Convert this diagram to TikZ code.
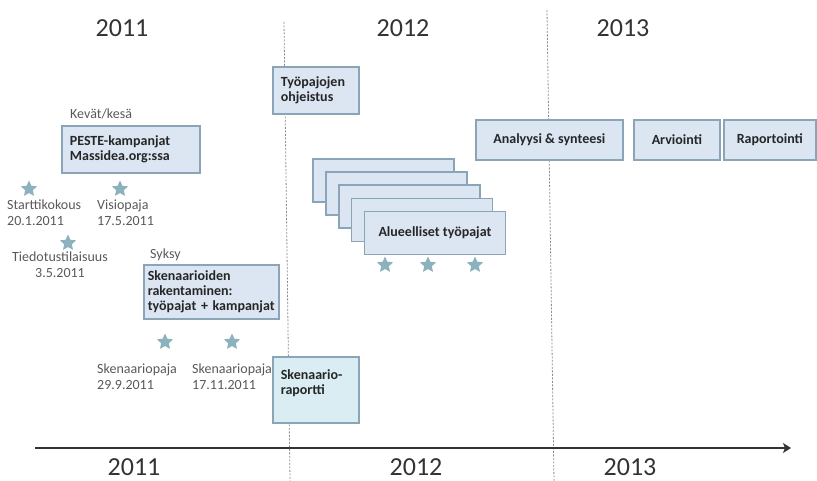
\documentclass[tikz,border=0pt]{standalone}
\usepackage{fontspec}
\setmainfont{Carlito}
\usetikzlibrary{arrows.meta, positioning, shapes.geometric}
\definecolor{boxfill}{HTML}{DCE6F2}
\definecolor{boxline}{HTML}{8AA4B8}
\definecolor{repfill}{HTML}{D9EDF2}
\definecolor{starcol}{HTML}{8CB3BD}
\definecolor{txtgray}{HTML}{595959}
\definecolor{dkgray}{HTML}{333333}
\definecolor{divgray}{HTML}{8C8C8C}
\newcommand{\boxfont}{\fontsize{14}{15}\selectfont\bfseries}
\newcommand{\lblfont}{\fontsize{14}{16}\selectfont}
\hyphenpenalty=10000
\exhyphenpenalty=10000

\begin{document}
\begin{tikzpicture}[x=1pt, y=-1pt,
  >={Stealth[length=8pt, width=10pt, inset=2pt]},
  tbox/.style 2 args={draw=boxline, line width=1.7pt, fill=boxfill, font=\boxfont,
    text=black!85, align=left, text width=#1, minimum height=#2,
    inner xsep=8pt, inner ysep=0pt, anchor=north west},
  cbox/.style 2 args={draw=boxline, line width=1.7pt, fill=boxfill, font=\boxfont,
    text=black!85, minimum width=#1, minimum height=#2,
    inner sep=0pt, anchor=north west},
  lbl/.style={font=\lblfont, text=txtgray, inner sep=0pt},
  year/.style={font=\fontsize{26}{28}\selectfont, text=dkgray, inner sep=0pt},
  event/.style={star, star points=5, star point ratio=2.1, minimum size=17pt,
    inner sep=0pt, fill=starcol, draw=none},
  divider/.style={divgray, line width=0.8pt, dash pattern=on 2pt off 1.5pt},
]

\useasboundingbox (0,0) rectangle (817,481);

% === Year dividers ===
\coordinate (d1top) at (284,22);
\coordinate (d1bot) at (290,481);
\coordinate (d2top) at (547,10);
\coordinate (d2bot) at (554,481);
\draw[divider] (d1top) -- (d1bot);
\draw[divider] (d2top) -- (d2bot);

% === Years ===
\node[year] (y11top) at (122,28) {2011};
\node[year] (y12top) at (403,28) {2012};
\node[year] (y13top) at (623,28) {2013};

% === 2011 ===
\node[lbl, anchor=west] (kevat) at (70,114) {Kevät/kesä};
\node[tbox={122pt}{47pt}] (peste) at (61,125) {PESTE-kampanjat\\Massidea.org:ssa};

\node[event] (startti) at (29,189) {};
\node[event] (visio) at (120,189) {};
\node[event] (tiedote) at (68,243) {};
\node[lbl, anchor=west, align=left] (starttiL) at (7,213) {Starttikokous\\20.1.2011};
\node[lbl, anchor=west, align=left] (visioL) at (97,213) {Visiopaja\\17.5.2011};
\node[lbl, align=center] (tiedoteL) at (60,265) {Tiedotustilaisuus\\3.5.2011};

\node[lbl, anchor=west] (syksy) at (150,255) {Syksy};
\node[tbox={127pt}{54pt}, inner xsep=4pt] (skenaariot) at (143,264)
  {Skenaarioiden\\rakentaminen:\\työpajat + kampanjat};

\node[event] (paja1) at (165,342) {};
\node[event] (paja2) at (232,342) {};
\node[lbl, anchor=west, align=left] (paja1L) at (97,377) {Skenaariopaja\\29.9.2011};
\node[lbl, anchor=west, align=left] (paja2L) at (192,377) {Skenaariopaja\\17.11.2011};

% === 2012 ===
\node[tbox={70pt}{47pt}] (ohjeistus) at (272,66) {Työpajojen\\ohjeistus};
\node[tbox={70pt}{66pt}, fill=repfill] (raportti) at (272,356) {Skenaario-\\raportti\\\mbox{}};

\foreach \i in {0,...,3}
  \node[cbox={141pt}{43pt}] (alue\i) at (312+12.9*\i,158+13.2*\i) {};
\node[cbox={141pt}{43pt}] (alue) at (363.6,210.8) {Alueelliset työpajat};

\node[event] (alueS1) at (385,265) {};
\node[event] (alueS2) at (428,265) {};
\node[event] (alueS3) at (475,265) {};

% === 2013 ===
\node[cbox={147pt}{40pt}] (analyysi) at (475,119) {Analyysi \& synteesi};
\node[cbox={86pt}{40pt}] (arviointi) at (633,119) {Arviointi};
\node[cbox={92pt}{40pt}] (raportointi) at (723,119) {Raportointi};

% === Time axis ===
\coordinate (axstart) at (35,448);
\coordinate (axend) at (791,448);
\draw[->, line width=2.6pt, dkgray] (axstart) -- (axend);

\node[year] (y11bot) at (134,467) {2011};
\node[year] (y12bot) at (416,467) {2012};
\node[year] (y13bot) at (630,467) {2013};

\end{tikzpicture}
\end{document}
